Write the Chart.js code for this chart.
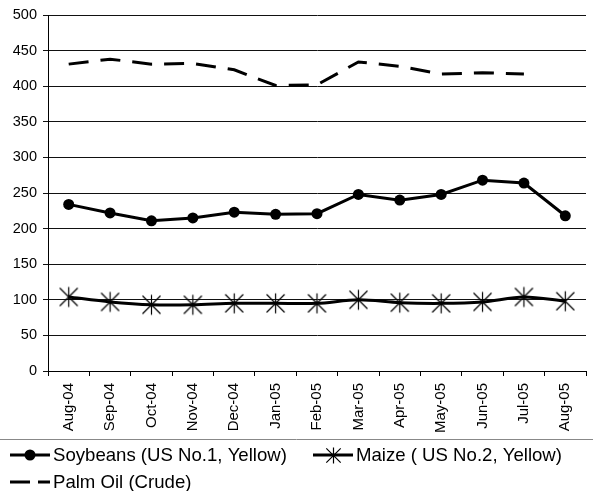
<!DOCTYPE html>
<html>
<head>
<meta charset="utf-8">
<script src="https://cdn.jsdelivr.net/npm/chart.js@4/dist/chart.umd.min.js"></script>
<style>
  html, body { margin: 0; padding: 0; background: #fff; }
</style>
</head>
<body>
<canvas id="myChart" width="593" height="491"></canvas>
<script>
const months = ['Aug-04', 'Sep-04', 'Oct-04', 'Nov-04', 'Dec-04', 'Jan-05', 'Feb-05',
  'Mar-05', 'Apr-05', 'May-05', 'Jun-05', 'Jul-05', 'Aug-05'];
const soybeans = [234, 222, 211, 215, 223, 220, 221, 248, 240, 248, 268, 264, 218];
const maize = [104, 97, 93, 93, 95, 95, 95, 100, 96, 95, 97, 104, 98];
const palmOil = [431, 438, 431, 432, 423, 401, 402, 434, 428, 417, 419, 417, null];
const yTicks = [0, 50, 100, 150, 200, 250, 300, 350, 400, 450, 500];

const FONT = '"Liberation Sans", Arial, sans-serif';

// asterisk marker (vertical bar + X), thin lines
function makeStar(r) {
  const c = document.createElement('canvas');
  c.width = c.height = r * 2 + 3;
  const g = c.getContext('2d');
  const m = r + 1.5;
  const d = r * 0.9;
  g.strokeStyle = '#000';
  g.lineWidth = 1.2;
  g.beginPath();
  g.moveTo(m, m - r); g.lineTo(m, m + r);
  g.moveTo(m - d, m - d); g.lineTo(m + d, m + d);
  g.moveTo(m + d, m - d); g.lineTo(m - d, m + d);
  g.stroke();
  return c;
}
const starImg = makeStar(10);
const starSmall = makeStar(8);

// legend under the plot, Excel style
const bottomLegend = {
  id: 'bottomLegend',
  afterDraw(chart) {
    const ctx = chart.ctx;
    const ds = chart.data.datasets;
    ctx.save();
    ctx.strokeStyle = '#888';
    ctx.lineWidth = 1;
    ctx.beginPath();
    ctx.moveTo(0, 439.5);
    ctx.lineTo(593, 439.5);
    ctx.stroke();

    ctx.font = '18.6px ' + FONT;
    ctx.fillStyle = '#000';
    ctx.textBaseline = 'middle';
    ctx.strokeStyle = '#000';
    ctx.lineWidth = 3;

    // soybeans
    ctx.beginPath(); ctx.moveTo(10, 455); ctx.lineTo(50, 455); ctx.stroke();
    ctx.beginPath(); ctx.arc(30, 455, 5.5, 0, Math.PI * 2); ctx.fill();
    ctx.fillText(ds[0].label, 53, 456);

    // maize
    ctx.beginPath(); ctx.moveTo(313, 455); ctx.lineTo(353, 455); ctx.stroke();
    ctx.drawImage(starSmall, Math.round(333 - starSmall.width / 2), Math.round(455 - starSmall.height / 2));
    ctx.fillText(ds[1].label, 356, 456);

    // palm oil
    ctx.setLineDash([20, 8]);
    ctx.beginPath(); ctx.moveTo(10, 482); ctx.lineTo(50, 482); ctx.stroke();
    ctx.setLineDash([]);
    ctx.fillText(ds[2].label, 53, 483);
    ctx.restore();
  }
};

const ctx = document.getElementById('myChart').getContext('2d');
const myChart = new Chart(ctx, {
  type: 'line',
  data: {
    labels: months,
    datasets: [{
      label: 'Soybeans (US No.1, Yellow)',
      data: soybeans,
      borderColor: '#000',
      backgroundColor: '#000',
      borderWidth: 3,
      pointStyle: 'circle',
      pointRadius: 5.5,
      pointBackgroundColor: '#000',
      pointBorderWidth: 0,
      tension: 0
    }, {
      label: 'Maize ( US No.2, Yellow)',
      data: maize,
      borderColor: '#000',
      borderWidth: 3,
      pointStyle: starImg,
      tension: 0.3
    }, {
      label: 'Palm Oil (Crude)',
      data: palmOil,
      borderColor: '#000',
      borderWidth: 3,
      borderDash: [20, 12],
      pointRadius: 0,
      tension: 0
    }]
  },
  options: {
    responsive: false,
    animation: false,
    layout: { padding: { top: 15, right: 0, bottom: 52, left: 0 } },
    plugins: {
      legend: { display: false },
      tooltip: { enabled: false }
    },
    scales: {
      x: {
        offset: true,
        grid: { drawOnChartArea: false, offset: true, tickLength: 5, color: '#000' },
        border: { color: '#000' },
        ticks: {
          color: '#000', font: { family: FONT, size: 15 },
          maxRotation: 90, minRotation: 90, padding: 7, autoSkip: false
        },
        afterFit(scale) { scale.height = 68; }
      },
      y: {
        min: 0,
        max: 500,
        grid: { color: '#111', tickLength: 5 },
        border: { color: '#000' },
        afterBuildTicks(scale) { scale.ticks = yTicks.map(v => ({ value: v })); },
        ticks: { color: '#000', font: { family: FONT, size: 14.5 }, padding: 6 },
        afterFit(scale) { scale.width = 48; }
      }
    }
  },
  plugins: [bottomLegend]
});
</script>
</body>
</html>
